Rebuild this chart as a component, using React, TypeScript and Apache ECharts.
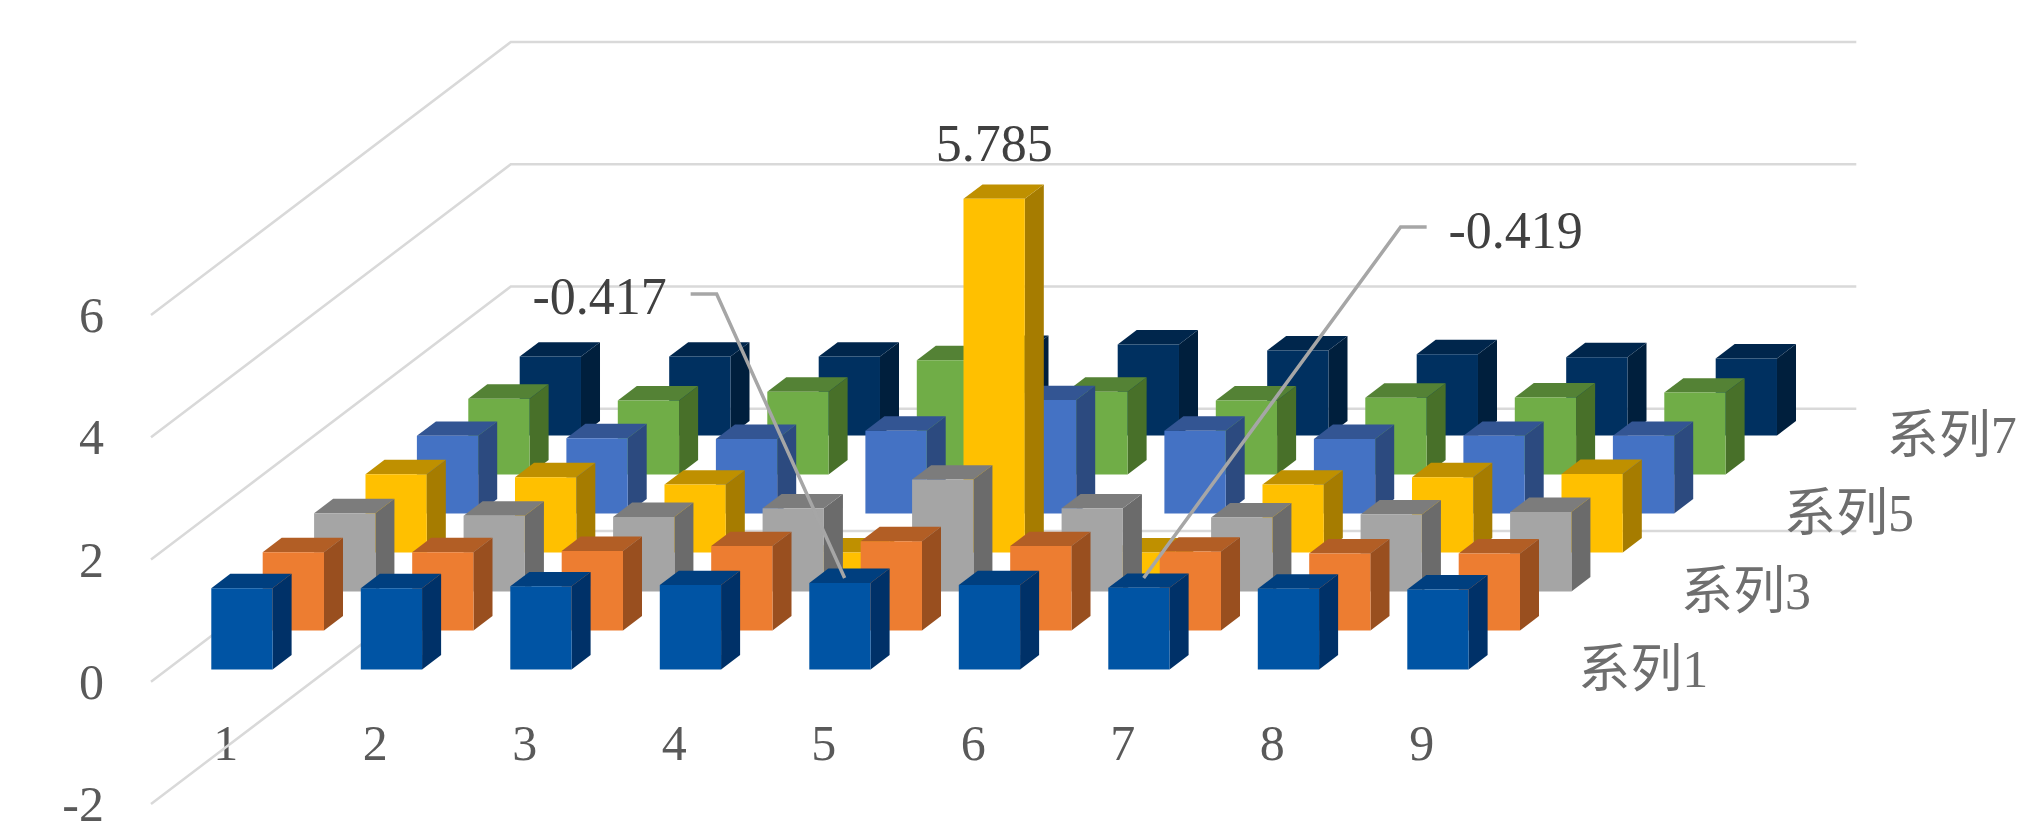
import React, { useEffect, useRef } from "react";
import * as echarts from "echarts";

const categories = ["1", "2", "3", "4", "5", "6", "7", "8", "9"];
const valueTicks = [-2, 0, 2, 4, 6];
const depthLabels = ["系列1", "系列3", "系列5", "系列7"];
const depthLabelSlots = [0, 2, 4, 6];

const series1 = [1.33, 1.33, 1.36, 1.38, 1.415, 1.38, 1.335, 1.32, 1.31];
const series2 = [1.28, 1.28, 1.3, 1.38, 1.46, 1.38, 1.29, 1.26, 1.26];
const series3 = [1.28, 1.24, 1.22, 1.36, 1.83, 1.36, 1.21, 1.26, 1.3];
const series4 = [1.28, 1.23, 1.11, -0.417, 5.785, -0.419, 1.11, 1.23, 1.285];
const series5 = [1.27, 1.23, 1.22, 1.355, 1.855, 1.355, 1.22, 1.27, 1.27];
const series6 = [1.24, 1.21, 1.355, 1.87, 1.355, 1.21, 1.255, 1.26, 1.34];
const series7 = [1.29, 1.29, 1.29, 1.4, 1.49, 1.39, 1.33, 1.28, 1.26];

const allSeries = [series1, series2, series3, series4, series5, series6, series7];

// front, top and side shades of each 3D bar series
const barShades = [
  ["#0054A4", "#003F7F", "#003168"],
  ["#ED7D31", "#B25E25", "#994F1F"],
  ["#A5A5A5", "#7C7C7C", "#6B6B6B"],
  ["#FFC000", "#BF9000", "#A67C00"],
  ["#4472C4", "#335593", "#2C4A7F"],
  ["#70AD47", "#548235", "#487029"],
  ["#003060", "#00264C", "#001F3D"],
];

// Oblique projection of the depth axis: screen shift per series slot.
const SLOT_DX = 51.4;
const SLOT_DY = 39;
const SLOT_COUNT = allSeries.length;
const BAR_WIDTH_RATIO = 0.41;
const BAR_DEPTH_RATIO = 0.37;
const DEPTH_LABEL_GAP = 236;

const SERIF = "'Liberation Serif', 'Noto Sans CJK SC', serif";
const LABEL_FONT = `52px ${SERIF}`;
const AXIS_COLOR = "#595959";
const DATA_LABEL_COLOR = "#404040";
const GRID_COLOR = "#d9d9d9";
const LEADER_COLOR = "#a6a6a6";

// Front-left corner of a bar in the given slot, at the given value.
function project(api: any, cat: number, value: number, slot: number): number[] {
  const band = api.size([1, 0])[0];
  const p = api.coord([cat, value]);
  const inset = (SLOT_DX * (1 - BAR_DEPTH_RATIO)) / 2;
  const lift = (SLOT_DY * (1 - BAR_DEPTH_RATIO)) / 2;
  const w = band * BAR_WIDTH_RATIO;
  return [p[0] - w / 2 + inset + slot * SLOT_DX, p[1] - lift - slot * SLOT_DY];
}

function barItem(slot: number) {
  return (_params: any, api: any) => {
    const cat = api.value(0);
    const value = api.value(1);
    const band = api.size([1, 0])[0];
    const w = band * BAR_WIDTH_RATIO;
    const dx = SLOT_DX * BAR_DEPTH_RATIO;
    const dy = SLOT_DY * BAR_DEPTH_RATIO;
    const [x, top] = project(api, cat, Math.max(value, 0), slot);
    const [, bottom] = project(api, cat, Math.min(value, 0), slot);
    const [front, topFace, side] = barShades[slot];
    const poly = (points: number[][], fill: string) => ({
      type: "polygon",
      shape: { points },
      style: { fill },
    });
    return {
      type: "group",
      children: [
        poly(
          [
            [x + w, top],
            [x + w + dx, top - dy],
            [x + w + dx, bottom - dy],
            [x + w, bottom],
          ],
          side
        ),
        poly(
          [
            [x, top],
            [x + w, top],
            [x + w + dx, top - dy],
            [x + dx, top - dy],
          ],
          topFace
        ),
        poly(
          [
            [x, top],
            [x + w, top],
            [x + w, bottom],
            [x, bottom],
          ],
          front
        ),
      ],
    };
  };
}

// Side wall and back wall gridline for one value tick.
function wallItem(_params: any, api: any) {
  const value = api.value(1);
  const band = api.size([1, 0])[0];
  const p = api.coord([0, value]);
  const left = p[0] - band / 2;
  const backX = left + SLOT_COUNT * SLOT_DX;
  const backY = p[1] - SLOT_COUNT * SLOT_DY;
  return {
    type: "polyline",
    shape: {
      points: [
        [left, p[1]],
        [backX, backY],
        [backX + band * categories.length, backY],
      ],
    },
    style: { stroke: GRID_COLOR, lineWidth: 2.5, fill: "none" },
  };
}

// Series names sit along the depth axis, past the floor's right edge.
function depthLabelItem(params: any, api: any) {
  const slot = depthLabelSlots[params.dataIndex];
  const [x, y] = project(api, categories.length - 1, 0, slot);
  return {
    type: "text",
    style: {
      text: depthLabels[params.dataIndex],
      x: x + DEPTH_LABEL_GAP,
      y,
      fill: "#6e6e6e",
      font: LABEL_FONT,
      align: "center",
      verticalAlign: "middle",
    },
  };
}

// The three labelled bars: series slot, category, and how each label is placed.
const labelledSlot = 3;
const labelledCats = [3, 4, 5];
const labelPlacements = [
  { textDx: -245, textDy: -281, elbow: [-128, -284], end: [-154, -284] },
  { textDx: 0, textDy: -55 },
  { textDx: 372, textDy: -348, elbow: [257, -351], end: [283, -351] },
];

function dataLabelItem(params: any, api: any) {
  const i = params.dataIndex;
  const cat = labelledCats[i];
  const value = allSeries[labelledSlot][cat];
  const band = api.size([1, 0])[0];
  const w = band * BAR_WIDTH_RATIO;
  const [x, y] = project(api, cat, Math.min(value, 0), labelledSlot);
  const [, frontTop] = project(api, cat, Math.max(value, 0), labelledSlot);
  const ax = x + w / 2;
  const place = labelPlacements[i];
  const children: any[] = [];
  const ay = value < 0 ? y : frontTop;
  if (place.elbow && place.end) {
    children.push({
      type: "polyline",
      shape: {
        points: [
          [ax, ay],
          [ax + place.elbow[0], ay + place.elbow[1]],
          [ax + place.end[0], ay + place.end[1]],
        ],
      },
      style: { stroke: LEADER_COLOR, lineWidth: 3.5, fill: "none" },
    });
  }
  children.push({
    type: "text",
    style: {
      text: value.toFixed(3),
      x: ax + place.textDx,
      y: ay + place.textDy,
      fill: DATA_LABEL_COLOR,
      font: LABEL_FONT,
      align: "center",
      verticalAlign: "middle",
    },
  });
  return { type: "group", children };
}

export default function App() {
  const ref = useRef<HTMLDivElement>(null);

  useEffect(() => {
    if (!ref.current) return;
    const chart = echarts.init(ref.current, undefined, { renderer: "svg" });
    const custom = (name: string, data: any[], renderItem: any, z: number) => ({
      type: "custom",
      name,
      data,
      renderItem,
      z,
      clip: false,
      silent: true,
      encode: { x: 0, y: 1 },
    });
    const barSeries = allSeries
      .map((values, slot) =>
        custom(
          `系列${slot + 1}`,
          values.map((v, i) => [i, v]),
          barItem(slot),
          10 + (SLOT_COUNT - slot)
        )
      )
      .reverse();
    chart.setOption({
      animation: false,
      backgroundColor: "#ffffff",
      grid: { left: 151, top: 315, width: 1345.5, height: 489, containLabel: false },
      xAxis: {
        type: "category",
        data: categories,
        offset: -61,
        axisLine: { show: false },
        axisTick: { show: false },
        splitLine: { show: false },
        axisLabel: {
          interval: 0,
          margin: 0,
          color: AXIS_COLOR,
          fontFamily: SERIF,
          fontSize: 50,
          verticalAlign: "middle",
        },
      },
      yAxis: {
        type: "value",
        min: -2,
        max: 6,
        interval: 2,
        axisLine: { show: false },
        axisTick: { show: false },
        splitLine: { show: false },
        axisLabel: {
          margin: 47,
          color: AXIS_COLOR,
          fontFamily: SERIF,
          fontSize: 50,
        },
      },
      series: [
        custom("walls", valueTicks.map((v) => [0, v]), wallItem, 1),
        ...barSeries,
        custom("depth-axis", depthLabelSlots.map((s) => [0, 0, s]), depthLabelItem, 30),
        custom(
          "data-labels",
          labelledCats.map((c) => [c, allSeries[labelledSlot][c]]),
          dataLabelItem,
          40
        ),
      ],
    });
    return () => chart.dispose();
  }, []);

  return (
    <div
      ref={ref}
      style={{ position: "fixed", left: 0, top: 0, width: 2030, height: 832, background: "#fff" }}
    />
  );
}
